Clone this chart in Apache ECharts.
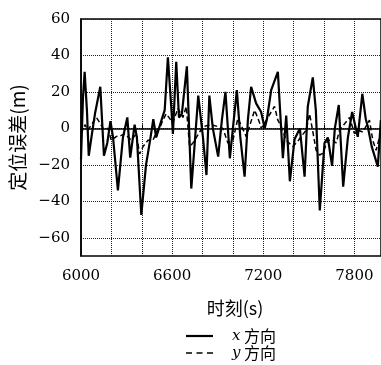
<!DOCTYPE html>
<html>
<head>
<meta charset="utf-8">
<script src="https://cdn.jsdelivr.net/npm/echarts@6/dist/echarts.min.js"></script>
<style>html,body{margin:0;padding:0;background:#fff}#c{width:381px;height:365px}</style>
</head>
<body>
<div id="c"></div>
<script>
// x-direction error (solid)
var xTimes = [6000,6013,6024,6039,6051,6072,6092,6127,6151,6173,6194,6211,6243,6276,6305,6324,6353,6368,6397,6428,6454,6476,6495,6528,6551,6572,6594,6605,6627,6645,6664,6697,6726,6748,6772,6803,6826,6845,6868,6903,6928,6951,6980,7000,7026,7049,7077,7099,7120,7153,7186,7209,7224,7252,7296,7329,7351,7375,7406,7441,7472,7493,7526,7546,7572,7603,7625,7653,7671,7697,7726,7757,7785,7822,7852,7875,7888,7914,7954,7974];
var xErr = [-17,17,31,10,-15,-3,8,22.8,-15,-8,4,-5,-34,-5,6,-16,2,-5,-47.5,-20,-7,5,-5,4,10,39,12,-3,36.5,6,8,34,-33,-9,18,-5,-25.6,18,0,-15.5,5,20,-16.4,0,21,-5,-26.5,5,22.8,13.7,9,0,5,21,31,-16.4,7,-29,-6,0,-26.5,12,28,10,-45,-8,-5,-20.6,0,12.8,-32,-5,9,-4.6,19,5,1,-10,-21,4.5];
// y-direction error (dashed)
var yTimes = [6000,6026,6046,6068,6101,6125,6145,6178,6199,6232,6261,6288,6331,6364,6386,6408,6441,6474,6502,6518,6539,6561,6605,6638,6671,6693,6715,6737,6803,6857,6901,6934,6967,7000,7033,7088,7143,7176,7186,7230,7274,7296,7318,7351,7395,7428,7449,7482,7505,7548,7570,7592,7625,7658,7680,7702,7768,7801,7822,7855,7899,7921,7943,7966,7974];
var yErr = [-3,2,-1,2,6,3,0,0,-6.5,-4.5,-4,-3,-6.5,-3,-14,-10,-6.5,-6.5,-1,0,4.5,8,3,11,6,12,-10,-8,1,2,1,0,-8,-6.5,5.5,-4.5,10,3,0,6,12,4.5,1,-6.5,-10,-7,-4.5,-1,8,-12,-14.6,-13.7,-6.5,-6.5,-8,-1,6,-3,-1,-2,4.5,-6.5,-12,-4.5,-3];
var yTicks = [-60,-40,-20,0,20,40,60];
var xLabelTicks = [6000,6600,7200,7800];
var seriesNames = ['x 方向','y 方向'];

var serif = 'DejaVu Serif';
var cjk = 'Noto Sans CJK SC';

var solidIcon = 'path://M0,0h27v2.2h-27z';
var dashIcon = 'path://M0,0h6v1.6h-6zM10.5,0h6v1.6h-6zM21,0h6v1.6h-6z';

function legendCfg(name, icon, top){
  return {
    orient:'vertical', left:186, top:top, padding:0, itemWidth:27, itemHeight:14,
    data:[{name:name, icon:icon}],
    selectedMode:false,
    formatter:function(n){ return '{i|'+n.charAt(0)+'}{c|'+n.slice(1)+'}'; },
    textStyle:{ rich:{
      i:{fontFamily:serif, fontStyle:'italic', fontSize:15, color:'#000', padding:[0,0,0,14]},
      c:{fontFamily:cjk, fontSize:16, color:'#000'}
    }}
  };
}

var chart = echarts.init(document.getElementById('c'), null, {renderer:'canvas'});
chart.setOption({
  animation:false,
  backgroundColor:'#fff',
  grid:{left:81, right:0, top:19, bottom:109, show:true, borderColor:'#000', borderWidth:1.5, backgroundColor:'transparent'},
  legend:[ legendCfg(seriesNames[0], solidIcon, 328), legendCfg(seriesNames[1], dashIcon, 345) ],
  xAxis:{
    type:'value', min:6000, max:7975, interval:200,
    name:'时刻(s)', nameLocation:'middle', nameGap:43,
    nameTextStyle:{fontFamily:cjk, fontSize:18, color:'#000', padding:[0,0,0,8]},
    axisLine:{show:true, lineStyle:{color:'#000', width:1.5}},
    axisTick:{show:true, inside:true, length:4, lineStyle:{color:'#000'}},
    axisLabel:{margin:13, fontFamily:serif, fontSize:15, color:'#000', showMaxLabel:false,
      formatter:function(v){ return xLabelTicks.indexOf(v) >= 0 ? String(v) : ''; }},
    splitLine:{show:true, lineStyle:{color:'#222', type:'dotted', width:1}}
  },
  yAxis:{
    type:'value', min:-70, max:60,
    name:'定位误差(m)', nameLocation:'middle', nameGap:52, nameRotate:90,
    nameTextStyle:{fontFamily:cjk, fontSize:19, color:'#000'},
    axisLine:{show:true, lineStyle:{color:'#000', width:1.5}},
    axisTick:{show:false, customValues:yTicks},
    axisLabel:{margin:11, fontFamily:serif, fontSize:15, color:'#000', customValues:yTicks,
      formatter:function(v){ return String(v).replace('-', '\u2212'); }},
    splitLine:{show:true, lineStyle:{color:'#222', type:'dotted', width:1}}
  },
  series:[
    {name:seriesNames[0], type:'line', symbol:'none', data:xTimes.map(function(t,i){return [t,xErr[i]];}),
     lineStyle:{color:'#000', width:2.2}, itemStyle:{color:'#000'}, z:3},
    {name:seriesNames[1], type:'line', symbol:'none', data:yTimes.map(function(t,i){return [t,yErr[i]];}),
     lineStyle:{color:'#000', width:1.5, type:[5,3]}, itemStyle:{color:'#000'}, z:2}
  ]
});
</script>
</body>
</html>
